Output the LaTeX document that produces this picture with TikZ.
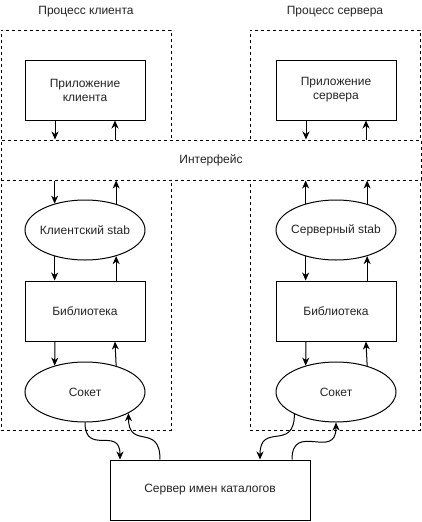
\documentclass[tikz,border=0pt]{standalone}
\usepackage{fontspec}
\setmainfont{Liberation Sans}
\usetikzlibrary{
  arrows.meta,
  positioning,
  shapes.geometric
}
\definecolor{labelgray}{RGB}{35,35,35}
\tikzset{
  labelfont/.style={font=\fontsize{12}{14}\selectfont,text=labelgray},
  basebox/.style={
    draw,
    line width=1pt,
    align=center,
    inner sep=0pt,
    labelfont
  },
  procbox/.style={
    draw,
    line width=1pt,
    dash pattern=on 3pt off 3pt,
    minimum width=170pt,
    minimum height=400pt
  },
  ifacebox/.style={procbox,fill=white,minimum width=420pt,minimum height=40pt,labelfont},
  appbox/.style={basebox,minimum width=120pt,minimum height=60pt},
  stabshape/.style={basebox,ellipse,minimum width=120pt,minimum height=60pt,inner xsep=-8pt},
  namesbox/.style={basebox,minimum width=200pt,minimum height=60pt},
  titletext/.style={labelfont},
  flowarrow/.style={-{Stealth[length=8pt,width=7pt,inset=2.5pt]},line width=1pt},
  curvearrow/.style={flowarrow,looseness=1.7}
}
\begin{document}
\begin{tikzpicture}[x=1pt,y=1pt]
  \useasboundingbox (0,0) rectangle (422,-522);

  \node[procbox] (lproc) at (86,-230) {};
  \node[procbox] (rproc) at (335,-230) {};
  \node[titletext,above=9pt of lproc] (ltitle) {Процесс клиента};
  \node[titletext,above=9pt of rproc] (rtitle) {Процесс сервера};
  \node[ifacebox] (iface) at (211,-160) {Интерфейс};

  \node[appbox] (capp) at (85,-90) {Приложение\\клиента};
  \node[stabshape] (cstab) at (85,-230) {Клиентский stab};
  \node[appbox,below=20pt of cstab] (clib) {Библиотека};
  \node[stabshape,below=20pt of clib] (csock) {Сокет};

  \node[appbox,right=130pt of capp] (sapp) {Приложение\\сервера};
  \node[stabshape,right=130pt of cstab] (sstab) {Серверный stab};
  \node[appbox,below=20pt of sstab] (slib) {Библиотека};
  \node[stabshape,below=20pt of slib] (ssock) {Сокет};

  \node[namesbox] (names) at (210,-490) {Сервер имен каталогов};

  % client column
  \draw[flowarrow] ([xshift=-30pt]capp.south) -- ([xshift=-30pt]capp.south |- iface.north);
  \draw[flowarrow] ([xshift=30pt]capp.south |- iface.north) -- ([xshift=30pt]capp.south);
  \draw[flowarrow] (cstab.139.1 |- iface.south) -- (cstab.139.1);
  \draw[flowarrow] (cstab.40.9) -- (cstab.40.9 |- iface.south);
  \draw[flowarrow] (cstab.-139.1) -- (cstab.-139.1 |- clib.north);
  \draw[flowarrow] (cstab.-40.9 |- clib.north) -- (cstab.-40.9);
  \draw[flowarrow] ([xshift=-30pt]clib.south) -- (csock.139.1);
  \draw[flowarrow] (csock.40.9) -- ([xshift=30pt]clib.south);

  % server column
  \draw[flowarrow] ([xshift=-30pt]sapp.south) -- ([xshift=-30pt]sapp.south |- iface.north);
  \draw[flowarrow] ([xshift=30pt]sapp.south |- iface.north) -- ([xshift=30pt]sapp.south);
  \draw[flowarrow] (sstab.139.1) -- (sstab.139.1 |- iface.south);
  \draw[flowarrow] (sstab.40.9) -- (sstab.40.9 |- iface.south);
  \draw[flowarrow] (sstab.-139.1) -- (sstab.-139.1 |- slib.north);
  \draw[flowarrow] (sstab.-40.9 |- slib.north) -- (sstab.-40.9);
  \draw[flowarrow] ([xshift=-30pt]slib.south) -- (ssock.139.1);
  \draw[flowarrow] (ssock.40.9) -- ([xshift=30pt]slib.south);

  % sockets to the name server
  \draw[curvearrow] (csock.south) to[out=-90,in=90] ([xshift=-90pt]names.north);
  \draw[curvearrow] ([xshift=-50pt]names.north) to[out=90,in=-90] (csock.-26);
  \draw[curvearrow] (ssock.-152) to[out=-90,in=90] ([xshift=50pt]names.north);
  \draw[curvearrow] ([xshift=82pt]names.north) to[out=90,in=-90] (ssock.south);
\end{tikzpicture}
\end{document}
